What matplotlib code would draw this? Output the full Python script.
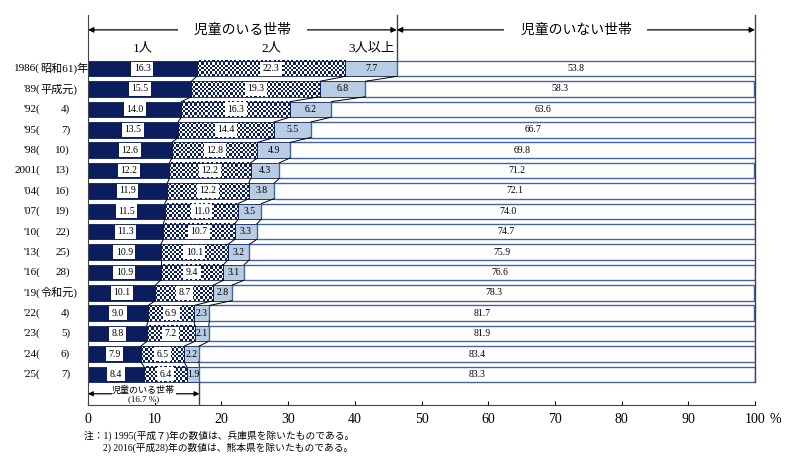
import numpy as np
import matplotlib
matplotlib.use("Agg")
import matplotlib.pyplot as plt
import matplotlib.transforms as mtransforms

plt.rcParams['font.family'] = ['Liberation Serif', 'Noto Sans CJK JP', 'DejaVu Sans']

# year labels, split in two parts
label_left = ["1986(", "'89(", "'92(", "'95(", "'98(", "2001(", "'04(", "'07(",
              "'10(", "'13(", "'16(", "'19(", "'22(", "'23(", "'24(", "'25("]
label_right = ["昭和61)年", "平成元)", "4)", "7)", "10)", "13)", "16)", "19)",
               "22)", "25)", "28)", "令和元)", "4)", "5)", "6)", "7)"]

one_child = [16.3, 15.5, 14.0, 13.5, 12.6, 12.2, 11.9, 11.5, 11.3, 10.9, 10.9, 10.1, 9.0, 8.8, 7.9, 8.4]
two_children = [22.3, 19.3, 16.3, 14.4, 12.8, 12.2, 12.2, 11.0, 10.7, 10.1, 9.4, 8.7, 6.9, 7.2, 6.5, 6.4]
three_plus = [7.7, 6.8, 6.2, 5.5, 4.9, 4.3, 3.8, 3.5, 3.3, 3.2, 3.1, 2.8, 2.3, 2.1, 2.2, 1.9]
no_children = [53.8, 58.3, 63.6, 66.7, 69.8, 71.2, 72.1, 74.0, 74.7, 75.9, 76.6, 78.3, 81.7, 81.9, 83.4, 83.3]

navy = "#0b1d5c"
light = "#b8cce4"
edge_blue = "#4463a0"

fig = plt.figure(figsize=(8, 4.73), dpi=100)
ax = fig.add_axes([0.11, 0.1438, 0.83375, 0.8245])

n = len(label_left)
y = np.arange(n)
h = 0.76
c1 = np.array(one_child)
c2 = c1 + np.array(two_children)
c3 = c2 + np.array(three_plus)

ax.barh(y, one_child, height=h, color=navy, edgecolor=navy, lw=0.6, zorder=2)
ax.barh(y, three_plus, left=c2, height=h, color=light, edgecolor=navy, lw=0.6, zorder=2)
ax.barh(y, no_children, left=c3, height=h, color="white", edgecolor=edge_blue, lw=1.0, zorder=2)

# checker pattern for 2 children
px_x = 667 / 100.0
cell = 2.2
checker_cmap = matplotlib.colors.ListedColormap(["white", navy])
for i in range(n):
    w = two_children[i]
    ncol = max(2, int(round(w * px_x / cell)))
    nrow = int(round(15.6 / cell))
    ii, jj = np.indices((nrow, ncol))
    pat = (ii + jj) % 2
    ax.imshow(pat, cmap=checker_cmap, extent=(c1[i], c2[i], i + h / 2, i - h / 2),
              interpolation="nearest", aspect="auto", zorder=1.5)
    ax.barh(i, w, left=c1[i], height=h, facecolor="none", edgecolor=navy, lw=0.6, zorder=2)

# connecting lines
for cum in (c1, c2, c3):
    for i in range(n - 1):
        ax.plot([cum[i], cum[i + 1]], [i + h / 2, i + 1 - h / 2], color="black", lw=0.7, zorder=3)

box = dict(boxstyle="square,pad=0.25", facecolor="white", edgecolor="none")
for i in range(n):
    ax.text(c1[i] / 2, i, f"{one_child[i]:.1f}", ha="center", va="center", fontsize=7, bbox=box, zorder=4)
    ax.text((c1[i] + c2[i]) / 2, i, f"{two_children[i]:.1f}", ha="center", va="center", fontsize=7, bbox=box, zorder=4)
    ax.text((c2[i] + c3[i]) / 2, i, f"{three_plus[i]:.1f}", ha="center", va="center", fontsize=7, zorder=4)
    ax.text((c3[i] + 100) / 2, i, f"{no_children[i]:.1f}", ha="center", va="center", fontsize=7, zorder=4)

ax.set_xlim(0, 100)
ax.set_ylim(16.5, -2.63)
ax.set_xticks(np.arange(0, 101, 10))
ax.set_xticklabels([str(v) for v in range(0, 101, 10)], fontsize=10)
ax.tick_params(axis="x", direction="in", length=3, pad=6)
ax.set_yticks([])
ax.spines["top"].set_visible(False)
ax.spines["right"].set_visible(False)
ax.spines["left"].set_color("#444444")
ax.spines["bottom"].set_color("#444444")
fig.text(769 / 800, 1 - 419 / 473, "%", ha="left", va="center", fontsize=10)

# y labels
blend = mtransforms.blended_transform_factory(fig.transFigure, ax.transData)
for i in range(n):
    ax.text(40 / 800, i, label_left[i], transform=blend, ha="right", va="center", fontsize=8)
    r = label_right[i]
    if any(ord(ch) > 0x3000 for ch in r):
        ax.text(40.5 / 800, i, r, transform=blend, ha="left", va="center", fontsize=8)
    else:
        ax.text(70 / 800, i, r, transform=blend, ha="right", va="center", fontsize=8)

# header annotations
top = -2.63
ax.plot([c3[0], c3[0]], [top, -h / 2], color="#444444", lw=1, clip_on=False)
ax.plot([100, 100], [top, n - 1 + h / 2], color="#444444", lw=1, clip_on=False)
ya = -1.9
ax.annotate("", xy=(0, ya), xytext=(c3[0], ya), annotation_clip=False,
            arrowprops=dict(arrowstyle="<|-|>", color="black", lw=0.9, mutation_scale=8, shrinkA=0, shrinkB=0))
ax.annotate("", xy=(c3[0], ya), xytext=(100, ya), annotation_clip=False,
            arrowprops=dict(arrowstyle="<|-|>", color="black", lw=0.9, mutation_scale=8, shrinkA=0, shrinkB=0))
hb = dict(boxstyle="square,pad=0.15", facecolor="white", edgecolor="none")
ax.text(c3[0] / 2, ya, "　児童のいる世帯　", ha="center", va="center", fontsize=10, bbox=hb, zorder=5)
ax.text((c3[0] + 100) / 2, ya, "　児童のいない世帯　", ha="center", va="center", fontsize=10, bbox=hb, zorder=5)
yh = -1.0
ax.text(c1[0] / 2, yh, "1人", ha="center", va="center", fontsize=9.5)
ax.text((c1[0] + c2[0]) / 2, yh, "2人", ha="center", va="center", fontsize=9.5)
ax.text((c2[0] + c3[0]) / 2, yh, "3人以上", ha="center", va="center", fontsize=9.5)

# bottom annotation
last = c3[-1]
ax.plot([last, last], [n - 1 + h / 2, 16.5], color="#444444", lw=1)
yb = 15.95
ax.annotate("", xy=(0, yb), xytext=(last, yb),
            arrowprops=dict(arrowstyle="<|-|>", color="black", lw=0.9, mutation_scale=7, shrinkA=0, shrinkB=0))
ax.text(last / 2, yb + 0.02, f"児童のいる世帯\n({last:.1f} %)", ha="center", va="center", fontsize=6.5,
        linespacing=1.0, bbox=dict(boxstyle="square,pad=0.05", facecolor="white", edgecolor="none"), zorder=5)

# notes
fig.text(84 / 800, 1 - 436 / 473, "注：1) 1995(平成７)年の数値は、兵庫県を除いたものである。", fontsize=7, va="center")
fig.text(103 / 800, 1 - 448 / 473, "2) 2016(平成28)年の数値は、熊本県を除いたものである。", fontsize=7, va="center")

fig.savefig("out.png", dpi=100)
